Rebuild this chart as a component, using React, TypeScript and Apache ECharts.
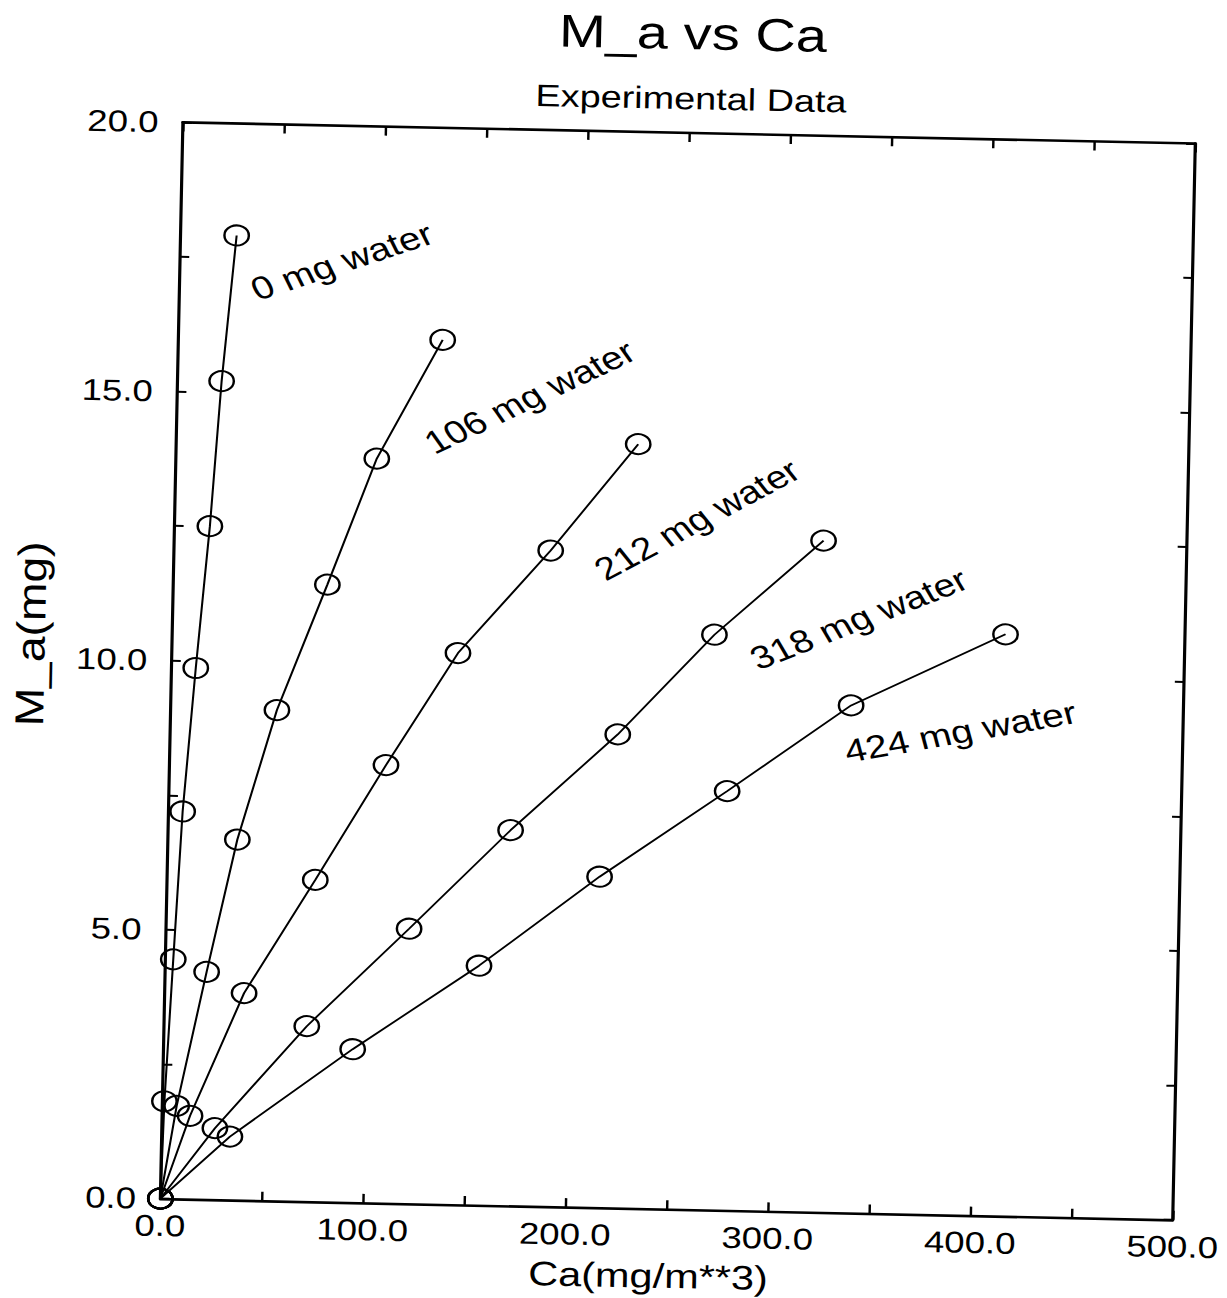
import React, { useEffect, useRef } from 'react';
import * as echarts from 'echarts';

// Measured loading curves: airborne concentration Ca (mg/m**3) against collected mass M_a (mg)
const waterLabels = ['0 mg water', '106 mg water', '212 mg water', '318 mg water', '424 mg water'];

const ca0 = [0, 1.0, 3.9, 7.0, 12.0, 17.5, 21.8, 27.7];
const ma0 = [0, 1.81, 4.45, 7.2, 9.87, 12.51, 15.21, 17.92];

const ca106 = [0, 7.1, 20.5, 34.3, 52.5, 76.1, 99.2, 130.5];
const ma106 = [0, 1.73, 4.23, 6.7, 9.12, 11.47, 13.83, 16.06];

const ca212 = [0, 13.8, 39.2, 73.2, 106.9, 141.3, 186.0, 228.1];
const ma212 = [0, 1.55, 3.85, 5.98, 8.14, 10.25, 12.19, 14.2];

const ca318 = [0, 26.2, 70.5, 120.0, 169.1, 221.0, 267.7, 320.6];
const ma318 = [0, 1.33, 3.26, 5.11, 6.98, 8.8, 10.69, 12.48];

const ca424 = [0, 33.7, 93.4, 154.9, 213.5, 275.6, 335.9, 411.4];
const ma424 = [0, 1.18, 2.85, 4.45, 6.15, 7.79, 9.43, 10.81];

const seriesCa = [ca0, ca106, ca212, ca318, ca424];
const seriesMa = [ma0, ma106, ma212, ma318, ma424];

// Axis ticks and their printed labels
const xTickValues = [0, 100, 200, 300, 400, 500];
const xTickLabels = ['0.0', '100.0', '200.0', '300.0', '400.0', '500.0'];
const yTickValues = [0, 5, 10, 15, 20];
const yTickLabels = ['0.0', '5.0', '10.0', '15.0', '20.0'];

const FONT = "'Liberation Sans', Arial, Helvetica, sans-serif";
const LABEL_FS = 32;

// Where each curve's caption sits, relative to its last point (baseline start, px) and its slant (deg)
const captionPlacement = [
  { dx: 18.5, dy: 65.5, angle: 23.3 },
  { dx: -4.5, dy: 115.5, angle: 31.4 },
  { dx: -24, dy: 138.5, angle: 34.4 },
  { dx: -51, dy: 131.5, angle: 26.9 },
  { dx: -127, dy: 132, angle: 13.4 },
];

const CHART_W = 1030;
const CHART_H = 1360;

export default function App() {
  const ref = useRef<HTMLDivElement>(null);

  useEffect(() => {
    const el = ref.current;
    if (!el) return;
    const chart = echarts.init(el, undefined, { renderer: 'svg', width: CHART_W, height: CHART_H });

    const axisLine = { show: true, onZero: false, lineStyle: { color: '#000', width: 2.6 } };

    const series = seriesCa.map((xs, i) => ({
      type: 'line',
      name: waterLabels[i],
      data: xs.map((x, j) => [x, seriesMa[i][j]]),
      symbol: 'circle',
      symbolSize: 20,
      itemStyle: { color: 'rgba(0,0,0,0)', borderColor: '#000', borderWidth: 2 },
      lineStyle: { color: '#000', width: 1.7 },
      emphasis: { disabled: true },
      silent: true,
      z: 3,
    }));

    chart.setOption({
      animation: false,
      backgroundColor: 'transparent',
      grid: { left: 152.5, right: 47.5, top: 148.5, bottom: 135, containLabel: false },
      xAxis: [
        {
          type: 'value',
          position: 'bottom',
          min: 0,
          max: 500,
          interval: 50,
          name: 'Ca(mg/m**3)',
          nameLocation: 'middle',
          nameGap: 50,
          nameTextStyle: { fontFamily: FONT, fontSize: 34, color: '#000', padding: [0, 28, 0, 0] },
          axisLine,
          axisTick: { show: true, inside: true, length: 9, lineStyle: { color: '#000', width: 2 } },
          axisLabel: {
            show: true,
            margin: 12,
            fontFamily: FONT,
            fontSize: 30,
            color: '#000',
            formatter: (v: number) => {
              const k = xTickValues.indexOf(v);
              return k >= 0 ? xTickLabels[k] : '';
            },
          },
          splitLine: { show: false },
        },
        {
          type: 'value',
          position: 'top',
          min: 0,
          max: 500,
          interval: 50,
          axisLine,
          axisTick: { show: true, inside: true, length: 9, lineStyle: { color: '#000', width: 2 } },
          axisLabel: { show: false },
          splitLine: { show: false },
        },
      ],
      yAxis: [
        {
          type: 'value',
          position: 'left',
          min: 0,
          max: 20,
          interval: 2.5,
          axisLine,
          axisTick: { show: true, inside: true, length: 7.5, lineStyle: { color: '#000', width: 2 } },
          axisLabel: {
            show: true,
            margin: 20,
            fontFamily: FONT,
            fontSize: 30,
            color: '#000',
            formatter: (v: number) => {
              const k = yTickValues.indexOf(v);
              return k >= 0 ? yTickLabels[k] : '';
            },
          },
          splitLine: { show: false },
        },
        {
          type: 'value',
          position: 'right',
          min: 0,
          max: 20,
          interval: 2.5,
          axisLine,
          axisTick: { show: true, inside: true, length: 7.5, lineStyle: { color: '#000', width: 2 } },
          axisLabel: { show: false },
          splitLine: { show: false },
        },
      ],
      series,
    });

    // Titles, the vertical axis caption and the slanted curve captions
    const captions = waterLabels.map((t, i) => {
      const xs = seriesCa[i];
      const ys = seriesMa[i];
      const [px, py] = chart.convertToPixel({ gridIndex: 0 }, [xs[xs.length - 1], ys[ys.length - 1]]) as number[];
      const p = captionPlacement[i];
      const b = (p.angle * Math.PI) / 180;
      const up = 0.3465 * LABEL_FS;
      const bx = px + p.dx;
      const by = py + p.dy;
      return {
        type: 'text',
        id: 'cap' + i,
        x: bx - up * Math.sin(b),
        y: by - up * Math.cos(b),
        rotation: b,
        silent: true,
        z: 10,
        style: {
          text: t,
          fontFamily: FONT,
          fontSize: LABEL_FS,
          fill: '#000',
          align: 'left',
          verticalAlign: 'middle',
        },
      };
    });

    chart.setOption({
      graphic: [
        {
          type: 'text',
          id: 'title',
          x: 569,
          y: 49,
          silent: true,
          style: { text: 'M_a vs Ca', fontFamily: FONT, fontSize: 46, fill: '#000', align: 'center', verticalAlign: 'middle' },
        },
        {
          type: 'text',
          id: 'subtitle',
          x: 568.5,
          y: 114,
          silent: true,
          style: { text: 'Experimental Data', fontFamily: FONT, fontSize: 31, fill: '#000', align: 'center', verticalAlign: 'middle' },
        },
        {
          type: 'text',
          id: 'yname',
          x: 36.8,
          y: 663,
          rotation: Math.PI / 2,
          scaleX: 1.4,
          silent: true,
          style: { text: 'M_a(mg)', fontFamily: FONT, fontSize: 33, fill: '#000', align: 'center', verticalAlign: 'middle' },
        },
        ...captions,
      ],
    });

    return () => {
      chart.dispose();
    };
  }, []);

  return (
    <div
      style={{
        position: 'fixed',
        left: 0,
        top: 0,
        width: 1227,
        height: 1298,
        overflow: 'hidden',
        background: '#fff',
      }}
    >
      <div
        ref={ref}
        style={{
          position: 'absolute',
          left: 0,
          top: -30,
          width: CHART_W,
          height: CHART_H,
          transformOrigin: '0 0',
          transform: 'rotate(1.2deg) scaleX(1.22)',
        }}
      />
    </div>
  );
}
